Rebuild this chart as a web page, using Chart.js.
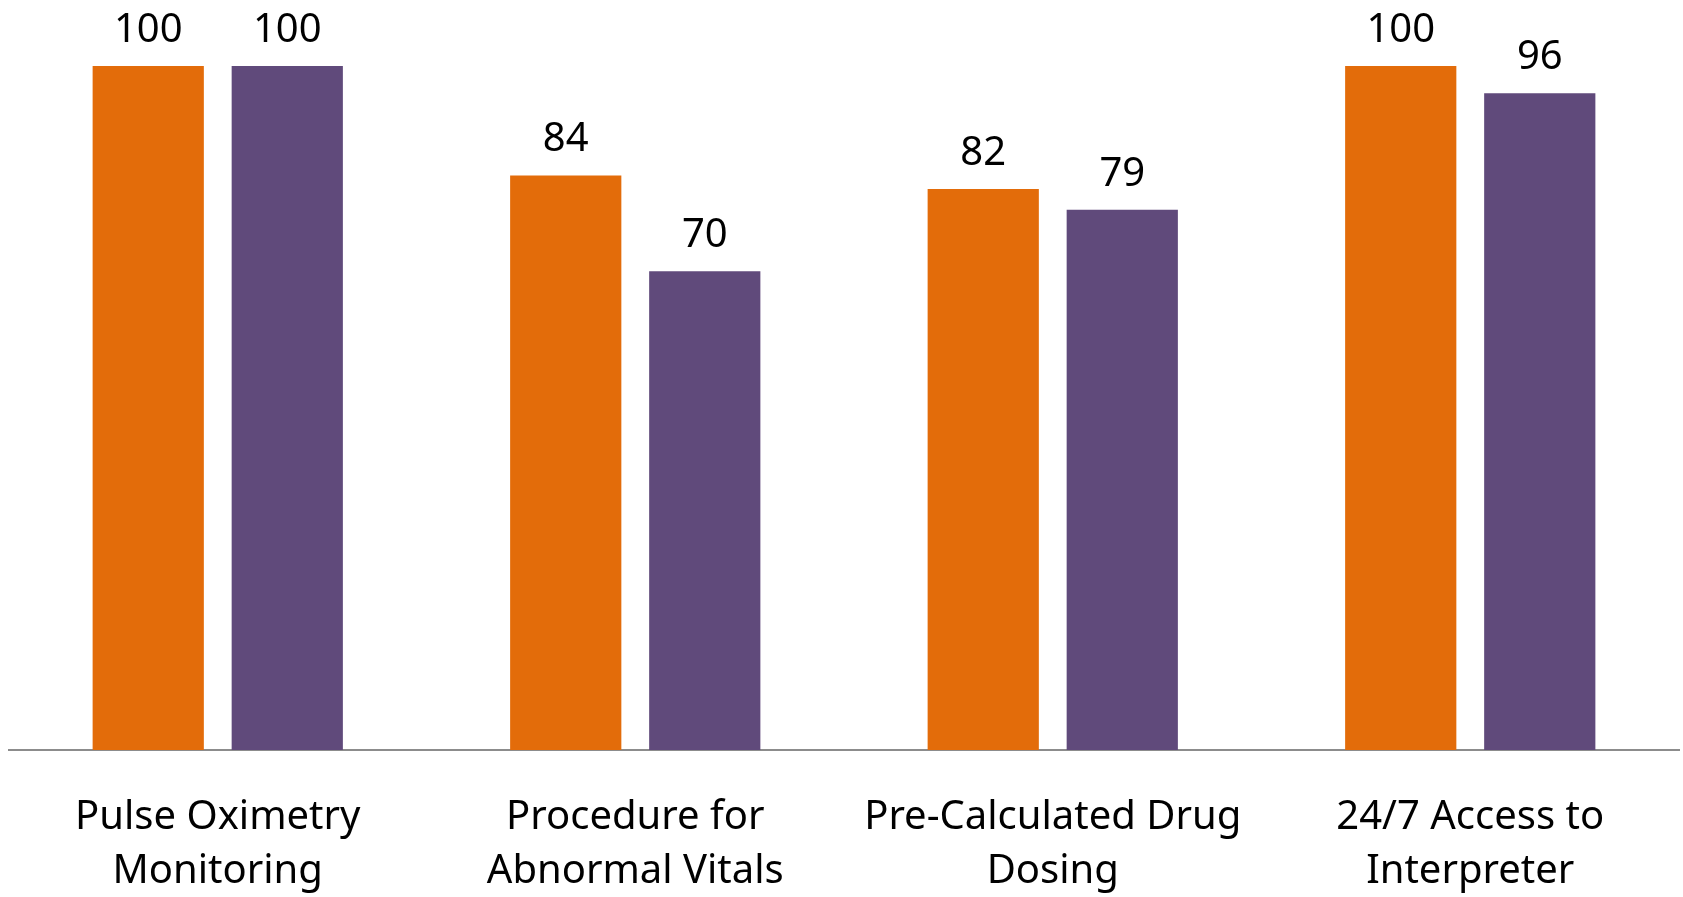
<!DOCTYPE html>
<html>
<head>
<meta charset="utf-8">
<script src="https://cdn.jsdelivr.net/npm/chart.js@4"></script>
<style>
    html, body { margin: 0; padding: 0; background: #ffffff; }
    canvas { display: block; }
</style>
</head>
<body>
<canvas id="MeasureChart" width="1683" height="897"></canvas>
<script>
    var categories = [
        ['Pulse Oximetry', 'Monitoring'],
        ['Procedure for', 'Abnormal Vitals'],
        ['Pre-Calculated Drug', 'Dosing'],
        ['24/7 Access to', 'Interpreter']
    ];
    var seriesA = [100, 84, 82, 100];
    var seriesB = [100, 70, 79, 96];

    // value labels above each bar
    var barValues = {
        id: 'barValues',
        afterDatasetsDraw: function (chart) {
            var ctx = chart.ctx;
            ctx.save();
            ctx.font = '40px "Noto Sans"';
            ctx.fillStyle = '#000000';
            ctx.textAlign = 'center';
            ctx.textBaseline = 'alphabetic';
            chart.data.datasets.forEach(function (ds, i) {
                chart.getDatasetMeta(i).data.forEach(function (bar, j) {
                    ctx.fillText(ds.data[j], bar.x, bar.y - 24);
                });
            });
            ctx.restore();
        }
    };

    new Chart(document.getElementById('MeasureChart'), {
        type: 'bar',
        data: {
            labels: categories,
            datasets: [
                {
                    label: 'A',
                    backgroundColor: '#E36C0A',
                    data: seriesA
                },
                {
                    label: 'B',
                    backgroundColor: '#604A7B',
                    data: seriesB
                }
            ]
        },
        options: {
            responsive: false,
            animation: false,
            devicePixelRatio: 1,
            layout: {
                padding: { top: 66, left: 9, right: 4, bottom: 0 }
            },
            datasets: {
                bar: {
                    categoryPercentage: 0.666,
                    barPercentage: 0.8
                }
            },
            plugins: {
                legend: { display: false },
                tooltip: { enabled: false }
            },
            scales: {
                x: {
                    grid: { display: false, drawTicks: false },
                    border: { display: true, color: '#8c8c8c', width: 2 },
                    ticks: {
                        color: '#000000',
                        padding: 40,
                        maxRotation: 0,
                        font: { family: '"Noto Sans"', size: 40, lineHeight: 1.36 }
                    },
                    afterFit: function (scale) {
                        scale.height = 147;
                    }
                },
                y: {
                    display: false,
                    min: 0,
                    max: 100
                }
            }
        },
        plugins: [barValues]
    });
</script>
</body>
</html>
